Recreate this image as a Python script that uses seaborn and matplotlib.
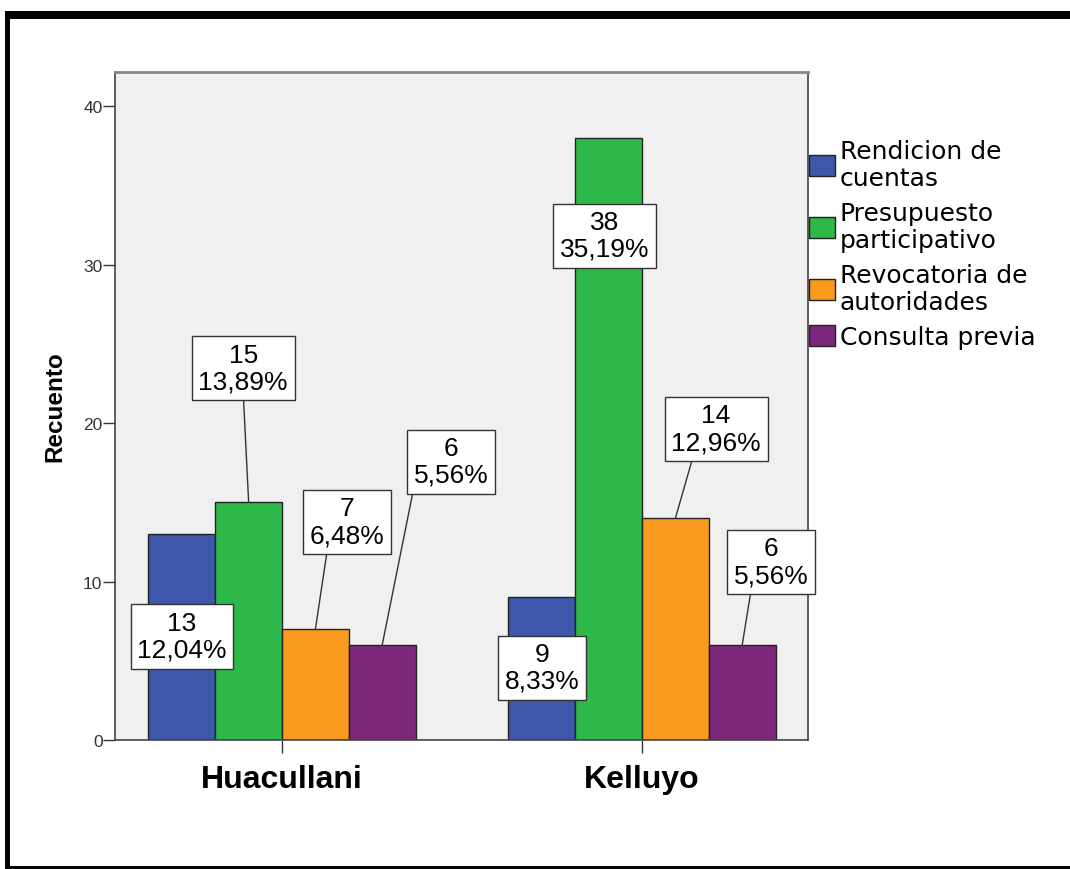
import numpy as np
import pandas as pd
import matplotlib
matplotlib.use("Agg")
import matplotlib.pyplot as plt
import seaborn as sns
from matplotlib.patches import Rectangle, Patch

# ---------------- data ----------------
comunidades = ["Huacullani", "Kelluyo"]
tipos = ["Rendicion de\ncuentas", "Presupuesto\nparticipativo",
         "Revocatoria de\nautoridades", "Consulta previa"]
recuento_huacullani = [13, 15, 7, 6]
recuento_kelluyo = [9, 38, 14, 6]
porcentaje_huacullani = ["12,04%", "13,89%", "6,48%", "5,56%"]
porcentaje_kelluyo = ["8,33%", "35,19%", "12,96%", "5,56%"]
y_ticks = [0, 10, 20, 30, 40]
colores = ["#3E57AB", "#2EB84A", "#F99A1E", "#7D287B"]

# label layout per community, per type: (dx from bar centre, box centre y, leader relpos x)
layout_huacullani = [(0.0, 6.53, 0.5), (-0.015, 23.46, 0.5), (0.088, 13.77, 0.24), (0.192, 17.57, 0.0)]
layout_kelluyo = [(0.0, 4.57, 0.5), (-0.012, 31.83, 0.5), (0.113, 19.63, 0.25), (0.08, 11.25, 0.24)]

rows = []
for t, v in zip(tipos, recuento_huacullani):
    rows.append({"Comunidad": "Huacullani", "Tipo": t, "Recuento": v})
for t, v in zip(tipos, recuento_kelluyo):
    rows.append({"Comunidad": "Kelluyo", "Tipo": t, "Recuento": v})
df = pd.DataFrame(rows)

W, H = 1070, 870
fig = plt.figure(figsize=(W / 100, H / 100), dpi=100)
ax = fig.add_axes([115 / W, 1 - 741 / H, (808 - 115) / W, (741 - 73) / H])
ax.set_facecolor("#F0F0F0")

sns.barplot(data=df, x="Comunidad", y="Recuento", hue="Tipo", order=comunidades,
            hue_order=tipos, palette=colores, saturation=1, width=0.742,
            edgecolor="#222222", linewidth=1.0, errorbar=None, ax=ax, legend=False,
            zorder=2)

ax.set_ylim(0, 42.15)
ax.set_xlim(-0.464, 1.461)
ax.set_yticks(y_ticks)

labfont = "Liberation Sans"
pcts = [porcentaje_huacullani, porcentaje_kelluyo]
counts = [recuento_huacullani, recuento_kelluyo]
layouts = [layout_huacullani, layout_kelluyo]
for hi, cont in enumerate(ax.containers):
    for ci, bar in enumerate(cont):
        bx = bar.get_x() + bar.get_width() / 2
        h = bar.get_height()
        dx, ly, rx = layouts[ci][hi]
        txt = f"{counts[ci][hi]}\n{pcts[ci][hi]}"
        arrow = None
        if ly > h:
            arrow = dict(arrowstyle="-", color="#333333", lw=1.0, relpos=(rx, 0.0),
                         shrinkA=0, shrinkB=0)
        ann = ax.annotate(txt, xy=(bx, h), xytext=(bx + dx, ly), textcoords="data",
                          ha="center", va="center", fontsize=19, family=labfont,
                          linespacing=1.15, color="#000000",
                          bbox=dict(boxstyle="square,pad=0.25", fc="white",
                                    ec="#333333", lw=1.0),
                          arrowprops=arrow, annotation_clip=False, zorder=5)
        ann.set_clip_on(True)

# axes styling
for s in ["left", "bottom", "right"]:
    ax.spines[s].set_color("#444444")
    ax.spines[s].set_linewidth(1.2)
ax.spines["top"].set_color("#888888")
ax.spines["top"].set_linewidth(2.0)

ax.tick_params(axis="y", length=9, width=1, color="#333333", labelsize=12.5,
               labelcolor="#333333", pad=0)
ax.tick_params(axis="x", length=9.5, width=1, color="#333333", labelsize=23,
               labelcolor="#000000", pad=8)
for lab in ax.get_yticklabels():
    lab.set_family(labfont)
for lab in ax.get_xticklabels():
    lab.set_family(labfont)
    lab.set_fontweight("bold")
ax.set_xlabel("")
ax.set_ylabel("Recuento", fontsize=17.5, fontweight="bold", family=labfont,
              color="#000000", labelpad=12)

# legend
handles = [Patch(facecolor=c, edgecolor="#222222", linewidth=1.0) for c in colores]
leg = ax.legend(handles, tipos, loc="upper left",
                bbox_to_anchor=(809 / W, 1 - 140 / H), bbox_transform=fig.transFigure,
                frameon=False, borderpad=0, borderaxespad=0, handlelength=1.02,
                handleheight=0.94, handletextpad=0.2, labelspacing=0.42,
                prop={"family": "DejaVu Sans", "size": 18})
for t in leg.get_texts():
    t.set_linespacing(1.18)
    t.set_color("#000000")

# outer black frame
fig.add_artist(Rectangle((5 / W, 1 - 20 / H), 1.0, 8 / H, transform=fig.transFigure,
                         facecolor="black", edgecolor="none"))
fig.add_artist(Rectangle((5 / W, 0.0), 5 / W, 1 - 12 / H, transform=fig.transFigure,
                         facecolor="black", edgecolor="none"))
fig.add_artist(Rectangle((5 / W, 0.0), 1.0, 3.5 / H, transform=fig.transFigure,
                         facecolor="black", edgecolor="none"))

fig.savefig("out.png", dpi=100)
